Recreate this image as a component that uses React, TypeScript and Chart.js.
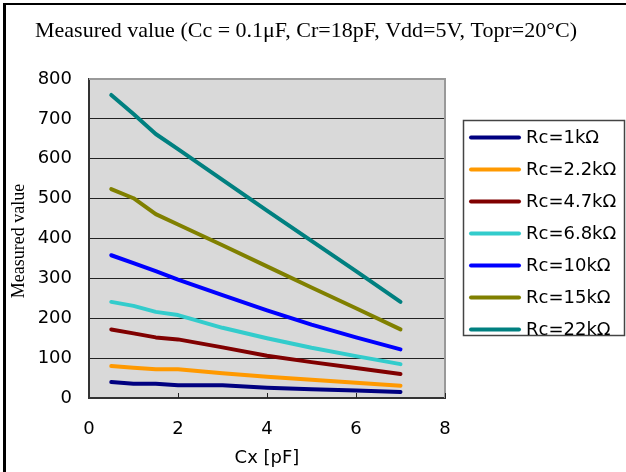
import React, { useEffect, useRef } from "react";
import { Chart, registerables } from "chart.js";

Chart.register(...registerables);

const cxValues = [0.5, 1, 1.5, 2, 3, 4, 5, 6, 7];
const seriesLabels = ["Rc=1kΩ", "Rc=2.2kΩ", "Rc=4.7kΩ", "Rc=6.8kΩ", "Rc=10kΩ", "Rc=15kΩ", "Rc=22kΩ"];
const rc1k = [40, 36, 36, 32, 32, 26, 22, 19, 15];
const rc2_2k = [80, 76, 72, 72, 62, 53, 46, 38, 31];
const rc4_7k = [172, 162, 152, 147, 127, 106, 90, 75, 60];
const rc6_8k = [241, 231, 216, 208, 176, 150, 126, 105, 85];
const rc10k = [358, 338, 318, 297, 258, 220, 184, 152, 122];
const rc15k = [524, 501, 461, 435, 383, 330, 277, 225, 172];
const rc22k = [760, 712, 662, 624, 547, 470, 394, 318, 241];
const seriesColors = ["#000080", "#FF9900", "#800000", "#33CCCC", "#0000FF", "#808000", "#008080"];
const titleText = "Measured value (Cc = 0.1μF, Cr=18pF, Vdd=5V, Topr=20°C)";
const yTitle = "Measured value";
const xTitle = "Cx [pF]";
const xTickValues = [2, 4, 6, 8];

const SANS = "'DejaVu Sans', sans-serif";
const SERIF = "'Liberation Serif', 'Times New Roman', serif";

export default function App() {
  const ref = useRef<HTMLCanvasElement | null>(null);

  useEffect(() => {
    if (!ref.current) return;
    const allSeries = [rc1k, rc2_2k, rc4_7k, rc6_8k, rc10k, rc15k, rc22k];
    const datasets = allSeries.map((vals, i) => ({
      label: seriesLabels[i],
      data: vals.map((v, j) => ({ x: cxValues[j], y: v })),
      borderColor: seriesColors[i],
      backgroundColor: seriesColors[i],
      borderWidth: 4,
      pointRadius: 0,
      tension: 0,
      borderCapStyle: "round" as const,
      borderJoinStyle: "round" as const,
    }));

    const decor = {
      id: "decor",
      beforeDraw(chart: any) {
        const { ctx, chartArea: a } = chart;
        ctx.save();
        ctx.fillStyle = "#ffffff";
        ctx.fillRect(0, 0, chart.width, chart.height);
        // outer frame
        ctx.fillStyle = "#000";
        ctx.fillRect(3, 3, 3, chart.height - 3);
        ctx.fillRect(3, 3, chart.width - 3, 2);
        ctx.fillStyle = "#D9D9D9";
        ctx.fillRect(a.left, a.top, a.right - a.left, a.bottom - a.top);
        ctx.restore();
      },
      afterDraw(chart: any) {
        const { ctx, chartArea: a } = chart;
        const xs = chart.scales.x;
        ctx.save();
        // top/right frame of plot area
        ctx.strokeStyle = "#999";
        ctx.lineWidth = 2;
        ctx.beginPath();
        ctx.moveTo(a.left, a.top);
        ctx.lineTo(a.right, a.top);
        ctx.lineTo(a.right, a.bottom);
        ctx.stroke();
        // inward x ticks
        ctx.strokeStyle = "#222";
        ctx.lineWidth = 1;
        xTickValues.forEach((v) => {
          const px = Math.round(xs.getPixelForValue(v)) + 0.5;
          ctx.beginPath();
          ctx.moveTo(px, a.bottom);
          ctx.lineTo(px, a.bottom - 5);
          ctx.stroke();
        });
        // title
        ctx.fillStyle = "#000";
        ctx.font = `22px ${SERIF}`;
        ctx.textAlign = "left";
        ctx.textBaseline = "middle";
        ctx.fillText(titleText, 35, 31);
        // y title
        ctx.save();
        ctx.translate(19, 241);
        ctx.rotate(-Math.PI / 2);
        ctx.font = `18px ${SERIF}`;
        ctx.textAlign = "center";
        ctx.textBaseline = "middle";
        ctx.fillText(yTitle, 0, 0);
        ctx.restore();
        // x title
        ctx.font = `18px ${SANS}`;
        ctx.textAlign = "center";
        ctx.textBaseline = "middle";
        ctx.fillText(xTitle, (a.left + a.right) / 2, 458);
        // legend
        ctx.strokeStyle = "#444";
        ctx.lineWidth = 1.5;
        ctx.strokeRect(463.5, 120.5, 161, 215);
        ctx.font = `18px ${SANS}`;
        ctx.textAlign = "left";
        ctx.textBaseline = "middle";
        ctx.lineCap = "round";
        seriesLabels.forEach((lab, i) => {
          const y = 137.5 + 32 * i;
          ctx.strokeStyle = seriesColors[i];
          ctx.lineWidth = 4;
          ctx.beginPath();
          ctx.moveTo(471, y);
          ctx.lineTo(519, y);
          ctx.stroke();
          ctx.fillStyle = "#000";
          ctx.fillText(lab, 526, y + 1);
        });
        ctx.restore();
      },
    };

    const chart = new Chart(ref.current, {
      type: "line",
      data: { datasets },
      options: {
        responsive: false,
        animation: false,
        devicePixelRatio: 1,
        layout: { padding: { left: 0, top: 79, right: 181, bottom: 0 } },
        plugins: {
          legend: { display: false },
          title: { display: false },
          tooltip: { enabled: false },
        },
        scales: {
          x: {
            type: "linear",
            min: 0,
            max: 8,
            ticks: {
              stepSize: 2,
              color: "#000",
              font: { family: SANS, size: 18 },
              padding: 21,
              maxRotation: 0,
            },
            grid: { display: false, drawTicks: false },
            border: { display: true, color: "#333", width: 2 },
            afterFit: (s: any) => {
              s.height = 74;
            },
          },
          y: {
            type: "linear",
            min: 0,
            max: 800,
            ticks: {
              stepSize: 100,
              color: "#000",
              font: { family: SANS, size: 18 },
              padding: 17,
            },
            grid: {
              drawTicks: false,
              color: (c: any) => (c.tick && (c.tick.value === 800 || c.tick.value === 0) ? "rgba(0,0,0,0)" : "#222"),
              lineWidth: 1,
            },
            border: { display: true, color: "#333", width: 2 },
            afterFit: (s: any) => {
              s.width = 89;
            },
          },
        },
      },
      plugins: [decor],
    });
    return () => chart.destroy();
  }, []);

  return (
    <div style={{ position: "absolute", left: 0, top: 0, width: 626, height: 472 }}>
      <canvas ref={ref} width={626} height={472} style={{ width: 626, height: 472, display: "block" }} />
    </div>
  );
}
